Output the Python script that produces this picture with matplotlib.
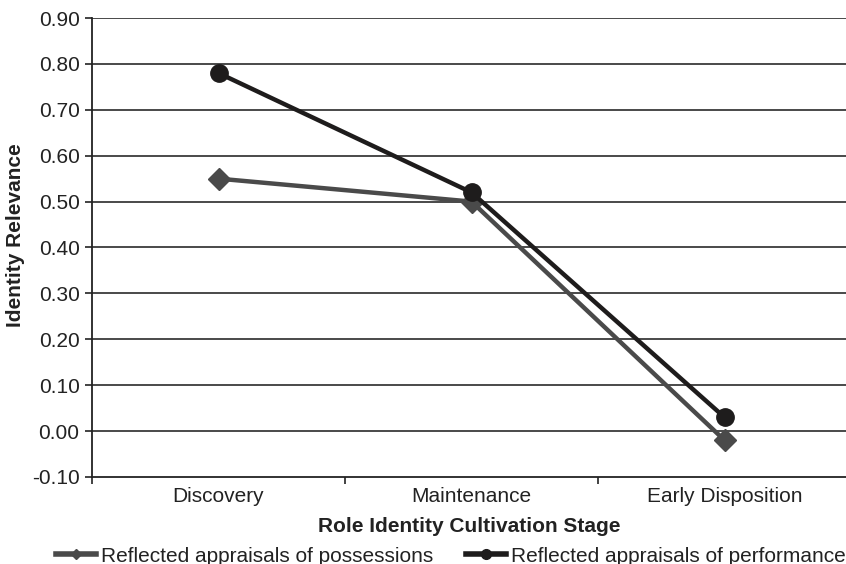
import matplotlib.pyplot as plt
from matplotlib.lines import Line2D
from matplotlib.ticker import FixedLocator, FormatStrFormatter

plt.rcParams['font.family'] = ['Liberation Sans', 'DejaVu Sans']

stages = ['Discovery', 'Maintenance', 'Early Disposition']
possessions = [0.55, 0.50, -0.02]
performance = [0.78, 0.52, 0.03]
y_ticks = [-0.10, 0.00, 0.10, 0.20, 0.30, 0.40, 0.50, 0.60, 0.70, 0.80, 0.90]

poss_color = '#4a4a4a'
perf_color = '#1e1c1c'

fig = plt.figure(figsize=(8.46, 5.64), dpi=100)
ax = fig.add_axes([92 / 846, 1 - 477 / 564, 1 - 92 / 846, (477 - 18) / 564])

x = list(range(len(stages)))
ax.plot(x, possessions, color=poss_color, lw=3.2, marker='D', ms=11.5,
        mfc=poss_color, mec=poss_color, zorder=3, clip_on=False)
ax.plot(x, performance, color=perf_color, lw=3.2, marker='o', ms=12.5,
        mfc=perf_color, mec=perf_color, zorder=4, clip_on=False)

ax.set_xlim(-0.5, 2.48)
ax.set_ylim(-0.10, 0.90)
ax.set_yticks(y_ticks)
ax.yaxis.set_major_formatter(FormatStrFormatter('%.2f'))
for t in y_ticks[1:]:
    ax.axhline(t, color='#2a2a2a', lw=1.2, zorder=1)

ax.set_xticks(x)
ax.set_xticklabels(stages)
ax.xaxis.set_minor_locator(FixedLocator([-0.5, 0.5, 1.5, 2.5]))
ax.tick_params(axis='x', which='major', length=0, pad=7, labelsize=15)
ax.tick_params(axis='x', which='minor', length=5, width=1.2, color='#222222')
ax.tick_params(axis='y', length=5, width=1.2, color='#222222', labelsize=15,
               pad=4, labelcolor='#222222')
ax.tick_params(axis='x', labelcolor='#222222')

for side in ('top', 'right'):
    ax.spines[side].set_visible(False)
for side in ('left', 'bottom'):
    ax.spines[side].set_linewidth(1.3)
    ax.spines[side].set_color('#222222')

ax.set_xlabel('Role Identity Cultivation Stage', fontsize=15, fontweight='bold',
              color='#222222')
ax.set_ylabel('Identity Relevance', fontsize=15, fontweight='bold',
              color='#222222')
ax.xaxis.set_label_coords(0.5, -(517 - 477) / 459)
ax.yaxis.set_label_coords(-(92 - 25) / 754, 0.5 - (235 - 247.5) / 459)

handles = [
    Line2D([], [], color=poss_color, lw=4, marker='D', ms=5,
           mfc=poss_color, mec=poss_color),
    Line2D([], [], color=perf_color, lw=4, marker='o', ms=7,
           mfc=perf_color, mec=perf_color),
]
fig.legend(handles, ['Reflected appraisals of possessions',
                     'Reflected appraisals of performance'],
           loc='center left', bbox_to_anchor=(56 / 846, 1 - 556 / 564),
           ncol=2, frameon=False, fontsize=15, handlelength=1.9,
           handletextpad=0.25, columnspacing=1.6, borderpad=0,
           borderaxespad=0, labelcolor='#222222')

fig.savefig('out.png', dpi=100)
